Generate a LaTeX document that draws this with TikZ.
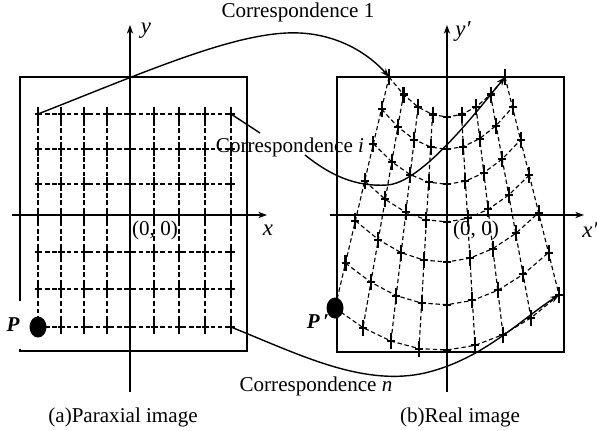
\documentclass[tikz,border=0pt]{standalone}
\usepackage{fontspec}
\setmainfont{Liberation Serif}
\usetikzlibrary{shapes.geometric,arrows.meta}

\begin{document}
\begin{tikzpicture}[>={Stealth[length=5pt,width=3.6pt]},x=0.02cm,y=-0.02cm,
	every node/.style={font=\fontsize{12}{14}\selectfont},
	frame/.style={line width=0.7pt},
	axis/.style={->,line width=0.7pt},
	meshline/.style={dash pattern=on 2.5pt off 1.6pt,line width=0.65pt},
	cross/.style={line width=1.15pt},
	dot/.style={ellipse,fill=black,inner sep=0pt,minimum width=0.34cm,minimum height=0.42cm},
	corr/.style={line width=0.8pt}]
	\useasboundingbox (0,0) rectangle (597,430);
	
	% frames and axes
	\draw[frame] (20,77) rectangle (247,351);
	\draw[frame] (337,77) rectangle (564,352);
	\draw[axis] (12,215) -- (267,215);
	\draw[axis] (130,392) -- (130,25);
	\draw[axis] (330,215) -- (584,215);
	\draw[axis] (447,392) -- (447,25);
	
	% paraxial grid points
	\foreach \x [count=\col] in {38,61,84,107,130,154,179,205,231}
		\foreach \y [count=\row] in {114,149,184,215,252,289,327}
			\coordinate (L-\row-\col) at (\x,\y);
	
	% real (distorted) grid points
	\foreach \col in {1,...,9}
		\foreach \row in {1,...,7}{
			\pgfmathsetmacro\gu{(\col-5)/4}
			\pgfmathsetmacro\gf{0.8*(\row-1)/6+0.2*((\row-1)/6)^2}
			\pgfmathsetmacro\xt{447+58*\gu}
			\pgfmathsetmacro\yt{117-40*\gu*\gu}
			\pgfmathsetmacro\xb{447+112*\gu}
			\pgfmathsetmacro\yb{350-48.5*\gu*\gu-6.5*\gu}
			\coordinate (R-\row-\col) at ({\xt+(\xb-\xt)*\gf},{\yt+(\yb-\yt)*\gf});
		}
	
	\foreach \row in {1,...,7}{
		\draw[meshline] (L-\row-1) -- (L-\row-9);
		\draw[meshline] (R-\row-1) \foreach \col in {2,...,9}{ -- (R-\row-\col)};
	}
	\foreach \col in {1,...,9}{
		\draw[meshline] (L-1-\col) -- (L-7-\col);
		\draw[meshline] (R-1-\col) -- (R-7-\col);
	}
	\foreach \row in {1,...,7}
		\foreach \col in {1,...,9}{
			\draw[cross,shift={(L-\row-\col)}] (0,-7) -- (0,7) (-3.5,0) -- (3.5,0);
			\draw[cross,shift={(R-\row-\col)}] (0,-8) -- (0,8) (-4,0) -- (4,0);
		}
	
	\node[dot] (P) at (L-7-1) {};
	\node[dot] (Pr) at (R-7-1) {};
	\node[fill=white,inner sep=1pt,minimum height=0.95cm,font=\fontsize{12}{14}\selectfont\bfseries\itshape] (Plab) at (13,325) {P};
	\node[font=\fontsize{12}{14}\selectfont\bfseries\itshape] (Prlab) at (318,322) {P\,′};
	
	% axis labels
	\node[font=\fontsize{13}{15}\selectfont\itshape] (ylab) at (146,31) {y};
	\node[font=\fontsize{13}{15}\selectfont\itshape] (xlab) at (268,230) {x};
	\node[font=\fontsize{13}{15}\selectfont\itshape] (yrlab) at (463,31) {y′};
	\node[font=\fontsize{13}{15}\selectfont\itshape] (xrlab) at (590,230) {x′};
	\node (o1) at (155,230) {(0, 0)};
	\node (o2) at (476,230) {(0, 0)};
	
	% correspondences
	\node (c1) at (298,12) {Correspondence 1};
	\node (ci) at (290,147) {Correspondence \textit{i}};
	\node (cn) at (316,386) {Correspondence \textit{n}};
	\coordinate (ci-a) at (260,133);
	\coordinate (ci-b) at (305,155);
	\draw[corr,->] (L-1-1) .. controls (150,70) and (240,30) .. (300,33)
		.. controls (340,35) and (370,55) .. (R-1-1);
	\draw[corr] (L-1-9) -- (ci-a);
	\draw[corr,->] (ci-b) .. controls (330,175) and (355,187) .. (387,185)
		.. controls (420,183) and (470,120) .. (R-1-9);
	\draw[corr,->] (L-7-9) .. controls (300,355) and (360,385) .. (420,374)
		.. controls (480,362) and (520,320) .. (R-7-9);
	
	\node (capa) at (123,417) {(a)Paraxial image};
	\node (capb) at (460,417) {(b)Real image};
\end{tikzpicture}
\end{document}
